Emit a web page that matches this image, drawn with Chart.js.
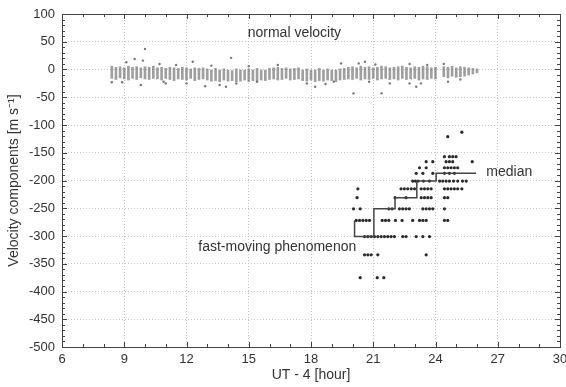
<!DOCTYPE html>
<html>
<head>
<meta charset="utf-8">
<script src="https://cdn.jsdelivr.net/npm/chart.js@4/dist/chart.umd.min.js"></script>
<style>
  html, body { margin: 0; padding: 0; background: #fff; }
  #wrap { width: 566px; height: 387px; }
</style>
</head>
<body>
<div id="wrap"><canvas id="chart"></canvas></div>
<script>
// Banda de "normal velocity": columnas de medidas (hora, tope, fondo)
const bandTimes = [
  8.4, 8.6, 8.8, 9.0, 9.2, 9.4, 9.6, 9.8, 10.0, 10.2, 10.4,
  10.6, 10.8, 11.0, 11.2, 11.4, 11.6, 11.8, 12.0, 12.2, 12.4, 12.6, 12.8,
  13.0, 13.2, 13.4, 13.6, 13.8, 14.0, 14.2, 14.4, 14.6, 14.8, 15.0, 15.2, 15.4, 15.6, 15.8,
  16.0, 16.2, 16.4, 16.6, 16.8, 17.0, 17.2, 17.4,
  17.6, 17.8, 18.0, 18.2, 18.4, 18.6, 18.8, 19.0, 19.2, 19.4, 19.6,
  19.8, 20.0, 20.2, 20.4, 20.6, 20.8, 21.0, 21.2, 21.4, 21.6, 21.8, 22.0, 22.2, 22.4, 22.6, 22.8, 23.0, 23.2, 23.4, 23.6, 23.8, 24.0,
  24.4, 24.6, 24.8, 25.0, 25.2, 25.4, 25.6, 25.8, 26.0
];
const bandHigh = [
  6, 4, 5, 3, 6, 4, 5, 3, 5, 4, 6,
  3, 4, 2, 4, 3, 2, 4, 3, 1, 3, 2, 3,
  1, 0, 2, -1, 1, 0, -2, 1, 0, -1, 1, 0, 2, 0, -1,
  2, 3, 4, 2, 3, 1, 2, 3,
  0, 1, -1, 0, 2, 0, 1, -1, 0, 1, 2,
  4, 5, 3, 6, 4, 5, 3, 4, 6, 5, 3, 4, 5, 6, 4, 3, 5, 4, 6, 5, 3, 4,
  5, 4, 6, 3, 5, 4, 3, 2, 1
];
const bandLow = [
  -16, -18, -15, -17, -19, -16, -18, -15, -17, -18, -16,
  -17, -19, -16, -18, -20, -17, -18, -19, -16, -20, -18, -17,
  -19, -21, -20, -22, -19, -21, -20, -22, -21, -19, -22, -20, -21, -19, -20,
  -18, -17, -19, -18, -16, -19, -18, -17,
  -20, -21, -19, -22, -20, -21, -19, -20, -22, -19, -18,
  -17, -18, -16, -19, -17, -18, -16, -19, -17, -16, -18, -17, -19, -16, -18, -17, -16, -19, -17, -18, -16, -17,
  -13, -15, -12, -14, -13, -12, -10, -8, -6
];

// Puntos sueltos alrededor de la banda
const strayTimes = [8.4, 8.9, 9.1, 9.5, 9.8, 9.9, 10.0, 10.7, 10.9, 11.0, 11.5, 12.0, 12.3, 12.9, 13.2, 13.6, 13.9, 14.15, 14.4, 15.0, 15.4, 16.4, 17.8, 18.2, 18.7, 19.1, 19.45, 20.05, 20.3, 20.6, 20.8, 21.1, 21.4, 21.8, 22.75, 22.75, 23.07, 23.3, 23.6, 24.4, 24.6, 25.2];
const strayVel =   [-23, -23, 13, 19, -28, 16, 37, 10, -22, -25, 8, -25, 14, -30, 7, -28, -31, 21, -25, 6, -22, 8, -25, -31, -26, -22, 11, -43, 11, 14, -22, 9, -43, -25, 10, -25, -31, -25, 8, 10, -22, -18];

// Fenómeno rápido: niveles de velocidad y horas de cada fila
const fastLevels = [-113, -121, -157, -166, -177, -187, -201, -215, -231, -251, -272, -301, -334, -375];
const fastTimes = [
  [25.27],
  [24.59],
  [24.43, 24.67, 24.83, 24.99],
  [23.55, 23.87, 24.51, 24.67, 24.83, 25.77],
  [23.23, 23.55, 24.43, 24.59, 24.75, 24.91, 25.07],
  [23.07, 23.39, 23.87, 24.43, 24.67, 24.91],
  [22.9, 23.03, 23.16, 23.42, 23.71, 24.2, 24.35, 24.51, 24.67, 24.87, 25.07, 25.3, 25.48],
  [20.26, 22.34, 22.5, 22.66, 22.83, 22.99, 23.31, 23.47, 23.63, 23.79, 24.43, 24.59, 24.75, 24.91, 25.07, 25.27],
  [20.22, 22.05, 22.58, 23.31, 23.47, 23.63, 23.79, 24.43, 24.59],
  [20.05, 20.37, 21.75, 21.91, 22.26, 22.42, 22.58, 22.74, 23.39, 23.55, 23.71, 23.87, 24.43],
  [20.18, 20.34, 20.5, 20.66, 20.82, 21.43, 21.59, 21.75, 22.07, 22.39, 22.9, 23.23, 23.39, 23.55, 24.43, 24.59],
  [20.58, 20.74, 20.9, 21.06, 21.22, 21.38, 21.54, 21.7, 21.86, 22.02, 22.42, 22.58, 23.07, 23.39, 23.71],
  [20.58, 20.74, 20.9, 21.22, 23.55],
  [20.37, 21.19, 21.51]
];

// Mediana (escalones)
const medianTimes = [20.1, 21.03, 22.05, 23.1, 24.03, 25.07, 25.96];
const medianVel = [-272, -301, -251, -231, -201, -187, -187];

// Textos sobre el gráfico
const notes = [
  { text: 'normal velocity', x: 14.95, y: 66, align: 'left' },
  { text: 'median', x: 26.45, y: -185, align: 'left' },
  { text: 'fast-moving phenomenon', x: 20.18, y: -320, align: 'right' }
];

const FONT = "'Liberation Sans', Arial, sans-serif";
const INK = '#333';

// Tabla para Chart.js
const bandData = bandTimes.map((t, i) => ({ x: t, y: [bandLow[i], bandHigh[i]] }));
const strayData = strayTimes.map((t, i) => ({ x: t, y: strayVel[i] }));
const fastData = [];
fastLevels.forEach((v, i) => fastTimes[i].forEach(t => fastData.push({ x: t, y: v })));
const medianData = medianTimes.map((t, i) => ({ x: t, y: medianVel[i] }));

// Marco con marcas hacia adentro + textos
const framePlugin = {
  id: 'frame',
  afterDatasetsDraw(chart) {
    const { ctx, chartArea: a, scales: { x, y } } = chart;
    ctx.save();
    ctx.strokeStyle = '#444';
    ctx.lineWidth = 1;
    ctx.strokeRect(Math.round(a.left) + 0.5, Math.round(a.top) + 0.5, Math.round(a.right - a.left), Math.round(a.bottom - a.top));
    ctx.beginPath();
    for (let h = 6; h <= 30; h++) {
      const px = Math.round(x.getPixelForValue(h)) + 0.5;
      const len = h % 3 === 0 ? 5 : 3;
      ctx.moveTo(px, a.bottom); ctx.lineTo(px, a.bottom - len);
      ctx.moveTo(px, a.top); ctx.lineTo(px, a.top + len);
    }
    for (let v = -500; v <= 100; v += 10) {
      const py = Math.round(y.getPixelForValue(v)) + 0.5;
      const len = v % 50 === 0 ? 5 : 3;
      ctx.moveTo(a.left, py); ctx.lineTo(a.left + len, py);
      ctx.moveTo(a.right, py); ctx.lineTo(a.right - len, py);
    }
    ctx.stroke();

    ctx.fillStyle = INK;
    ctx.font = '14px ' + FONT;
    ctx.textBaseline = 'middle';
    notes.forEach(n => {
      ctx.textAlign = n.align;
      ctx.fillText(n.text, x.getPixelForValue(n.x), y.getPixelForValue(n.y));
    });
    ctx.restore();
  }
};

new Chart(document.getElementById('chart'), {
  type: 'scatter',
  data: {
    datasets: [
      {
        type: 'bar',
        data: bandData,
        backgroundColor: 'rgba(95,95,95,0.6)',
        barThickness: 2,
        grouped: false,
        order: 4
      },
      {
        data: strayData,
        pointRadius: 1.2,
        pointBackgroundColor: '#777',
        pointBorderWidth: 0,
        order: 3
      },
      {
        data: fastData,
        pointRadius: 1.6,
        pointBackgroundColor: '#2a2a2a',
        pointBorderWidth: 0,
        order: 2
      },
      {
        data: medianData,
        showLine: true,
        stepped: 'after',
        borderColor: '#444',
        borderWidth: 1.5,
        pointRadius: 0,
        order: 1
      }
    ]
  },
  options: {
    responsive: true,
    maintainAspectRatio: false,
    animation: false,
    layout: { padding: { top: 14, right: 6, left: 0, bottom: 0 } },
    plugins: { legend: { display: false }, tooltip: { enabled: false } },
    scales: {
      x: {
        type: 'linear',
        min: 6, max: 30,
        offset: false,
        ticks: { stepSize: 3, padding: 5, color: INK, font: { family: FONT, size: 13 } },
        grid: { color: '#c4c4c4', drawTicks: false, offset: false },
        border: { display: false, dash: [1, 2] },
        title: { display: true, text: 'UT - 4 [hour]', color: INK, font: { family: FONT, size: 14 }, padding: { top: 2, bottom: 3 } },
        afterFit(s) { s.height = 40; s.paddingLeft = 0; s.paddingRight = 0; }
      },
      y: {
        type: 'linear',
        min: -500, max: 100,
        ticks: { stepSize: 50, padding: 7, color: INK, font: { family: FONT, size: 13 } },
        grid: { color: '#c4c4c4', drawTicks: false },
        border: { display: false, dash: [1, 2] },
        title: { display: true, text: 'Velocity components [m s⁻¹]', color: INK, font: { family: FONT, size: 14 }, padding: { top: 6, bottom: 0 } },
        afterFit(s) { s.width = 62; s.paddingTop = 0; s.paddingBottom = 0; }
      }
    }
  },
  plugins: [framePlugin]
});
</script>
</body>
</html>
